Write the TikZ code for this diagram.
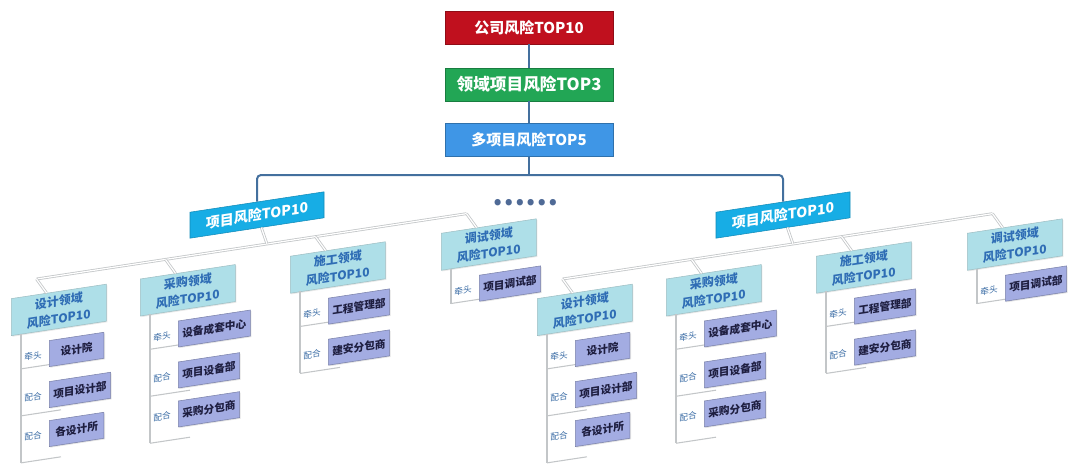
\documentclass[tikz,border=0pt]{standalone}
\usepackage{fontspec}
\newfontfamily\cjk{Noto Sans CJK SC}
\usetikzlibrary{shadows}

\definecolor{trunkcol}{HTML}{44709E}
\definecolor{redbox}{HTML}{C0101E}
\definecolor{greenbox}{HTML}{22A655}
\definecolor{bluebox}{HTML}{3F96E6}
\definecolor{cyanbox}{HTML}{17ADE5}
\definecolor{domfill}{HTML}{AEDFE8}
\definecolor{domtext}{HTML}{2F6DB5}
\definecolor{itemfill}{HTML}{A3ACE2}
\definecolor{itemtext}{HTML}{1E1E40}
\definecolor{labeltext}{HTML}{3D6EA6}
\definecolor{treegray}{HTML}{C3C6C8}
\definecolor{dotcol}{HTML}{4F6A96}

\tikzset{
  topbox/.style={fill=#1, draw=#1!75!black, text=white,
    font=\cjk\bfseries\fontsize{11.25}{13}\selectfont,
    minimum width=126pt, minimum height=24.75pt, inner sep=1pt},
  projbox/.style={fill=cyanbox, draw=cyanbox!80!black, text=white,
    font=\cjk\bfseries\fontsize{10.5}{12}\selectfont,
    minimum width=100.5pt, minimum height=19.5pt, inner sep=1pt},
  domainbox/.style={fill=domfill, draw=domfill!65!gray, text=domtext,
    font=\cjk\bfseries\fontsize{9}{13.2}\selectfont, align=center,
    minimum width=71.25pt, minimum height=27.75pt, inner sep=0.5pt,
    drop shadow={opacity=0.18, shadow xshift=0.8pt, shadow yshift=-0.8pt}},
  itembox/.style={fill=itemfill, draw=itemfill!75!black, text=itemtext,
    font=\cjk\bfseries\fontsize{8}{10}\selectfont,
    minimum width=41pt, minimum height=19.5pt, inner xsep=3pt, inner ysep=1pt,
    drop shadow={opacity=0.22, shadow xshift=0.8pt, shadow yshift=-0.8pt}},
  rolelabel/.style={text=labeltext, font=\cjk\fontsize{6.5}{7.5}\selectfont, inner sep=0pt},
  trunkline/.style={draw=trunkcol, line width=1.5pt},
  branchline/.style={draw=treegray, line width=0.6pt, double=white, double distance=0.9pt},
  colline/.style={draw=treegray, line width=0.8pt},
  dotrow/.style={text=dotcol, font=\cjk\bfseries\fontsize{22}{22}\selectfont, inner sep=0pt}
}

% one domain column: title box, joint on the bus, vertical rule
% #1 name, #2 left edge, #3 domain name, #4 y where the rule ends
\newcommand\domaincol[4]{%
  \pgfmathsetmacro\colx{#2+10}%
  \pgfmathsetmacro\joinx{#2+25.5}%
  \node[domainbox, anchor=north west] (#1) at (#2,46) {#3\\风险TOP10};
  \coordinate (#1-join) at (\joinx,30.5);
  \coordinate (#1-top) at (\colx,83);
  \coordinate (#1-end) at (\colx,#4);
  \draw[branchline] (#1-join) -- (#1);
  \draw[colline] (#1-top) -- (#1-end);
}

% one row of a column: separator, role label and unit box
% #1 name, #2 column left edge, #3 row centre, #4 separator y, #5 role, #6 unit
\newcommand\rolerow[6]{%
  \pgfmathsetmacro\colx{#2+10}%
  \pgfmathsetmacro\sepx{#2+50}%
  \pgfmathsetmacro\labx{#2+22}%
  \pgfmathsetmacro\boxx{#2+38}%
  \coordinate (#1-sa) at (\colx,#4);
  \coordinate (#1-sb) at (\sepx,#4);
  \draw[colline] (#1-sa) -- (#1-sb);
  \node[rolelabel] (#1-role) at (\labx,#3) {#5};
  \node[itembox, anchor=west] (#1) at (\boxx,#3) {#6};
}

% a project branch, drawn in a slanted frame centred on its title box
\newcommand\riskbranch[2]{%
\begin{scope}[shift={(#2,215)}, yslant=0.152, transform shape]
  \node[projbox] (#1) at (0,0) {项目风险TOP10};
  \coordinate (#1-hub) at (10,30.5);
  \coordinate (#1-busL) at (-220.5,30.5);
  \coordinate (#1-busR) at (209.5,30.5);
  \draw[branchline] (#1-busL) -- (#1-busR);
  \draw[branchline] (#1) -- (#1-hub);
  \domaincol{#1-d1}{-246}{设计领域}{212}
  \rolerow{#1-d1-r1}{-246}{107}{118}{牵头}{设计院}
  \rolerow{#1-d1-r2}{-246}{148}{165}{配合}{项目设计部}
  \rolerow{#1-d1-r3}{-246}{187}{212}{配合}{各设计所}
  \domaincol{#1-d2}{-117}{采购领域}{212}
  \rolerow{#1-d2-r1}{-117}{107}{118}{牵头}{设备成套中心}
  \rolerow{#1-d2-r2}{-117}{148}{165}{配合}{项目设备部}
  \rolerow{#1-d2-r3}{-117}{187}{212}{配合}{采购分包商}
  \domaincol{#1-d3}{33}{施工领域}{165}
  \rolerow{#1-d3-r1}{33}{107}{118}{牵头}{工程管理部}
  \rolerow{#1-d3-r2}{33}{148}{165}{配合}{建安分包商}
  \domaincol{#1-d4}{184}{调试领域}{118}
  \rolerow{#1-d4-r1}{184}{107}{118}{牵头}{项目调试部}
\end{scope}}

\begin{document}
\begin{tikzpicture}[x=0.75pt, y=-0.75pt]
  \useasboundingbox (0,0) rectangle (1068,465);

  \node[topbox=redbox] (company) at (529,27.5) {公司风险TOP10};
  \node[topbox=greenbox, font=\cjk\bfseries\fontsize{12.5}{14}\selectfont] (field) at (529,84.5) {领域项目风险TOP3};
  \node[topbox=bluebox] (multi) at (529,140) {多项目风险TOP5};
  \draw[trunkline] (company) -- (field);
  \draw[trunkline] (field) -- (multi);

  \riskbranch{pl}{257}
  \riskbranch{pr}{783}

  \coordinate (split) at (529,175);
  \draw[trunkline] (multi) -- (split);
  \draw[trunkline, rounded corners=3pt] (split) -| (pl.north);
  \draw[trunkline, rounded corners=3pt] (split) -| (pr.north);

  \node[dotrow] (more) at (525,203) {……};
\end{tikzpicture}
\end{document}
